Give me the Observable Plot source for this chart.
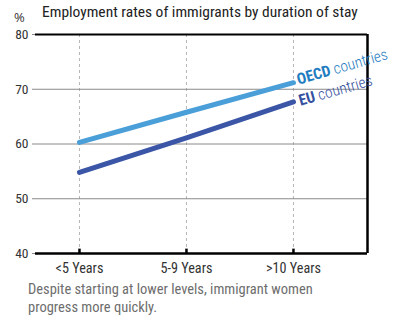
<!DOCTYPE html>
<html><head><meta charset="utf-8">
<script src="https://cdn.jsdelivr.net/npm/d3@7"></script>
<script src="https://cdn.jsdelivr.net/npm/@observablehq/plot@0.6"></script>
<style>
body{margin:0;background:#fff;}
#wrap{position:relative;width:395px;height:319px;font-family:Roboto,sans-serif;font-stretch:condensed;}
.t{position:absolute;white-space:nowrap;line-height:1;}
#chart svg text{font-family:Roboto,sans-serif;}
</style></head>
<body>
<div id="wrap">
<div id="chart"></div>
<div class="t" id="title" style="left:42px;color:#222;">Employment rates of immigrants by duration of stay</div>
<div class="t" id="pct" style="left:14px;top:11px;font-size:13px;color:#333;font-family:'Open Sans';font-stretch:normal;">%</div>
<div class="t" id="cap" style="left:28px;line-height:18px;color:#6d6d6d;">Despite starting at lower levels, immigrant women<br>progress more quickly.</div>
</div>
<script>
const categories = ["<5 Years", "5-9 Years", ">10 Years"];
const oecdValues = [60.3, 65.8, 71.2];
const euValues = [54.8, 61.1, 67.7];
const yTicks = [40, 50, 60, 70, 80];
const seriesNames = ["OECD", "EU"];

const ctx = document.createElement("canvas").getContext("2d");
function w(str, weight) { ctx.font = `${weight || "normal"} condensed 100px Roboto`; return ctx.measureText(str).width; }
function fit(str, target, weight) { return 100 * target / w(str, weight); }

const titleSize = fit("Employment rates of immigrants by duration of stay", 316);
const capSize = fit("Despite starting at lower levels, immigrant women", 285);
const xSize = fit("5-9 Years", 52);
const lblSize = 100 * 94 / (w("OECD", "bold") + w(" countries", "300"));

// position HTML text by baseline (Roboto: ascent 0.928, descent 0.244)
function place(el, size, baseline, lh) {
  el.style.fontSize = size + "px";
  const L = lh || size;
  el.style.top = (baseline - (L / 2 + (0.928 - 0.244) / 2 * size)) + "px";
}
place(document.getElementById("title"), titleSize, 18.5);
place(document.getElementById("cap"), capSize, 294.5, 18);

const data = [];
categories.forEach((c, i) => {
  data.push({series: "OECD", i, v: oecdValues[i]});
  data.push({series: "EU", i, v: euValues[i]});
});
const colors = {OECD: "#4a9fd8", EU: "#3b56a6"};
const labelColors = {OECD: "#1f7cc0", EU: "#34509f"};
const xmin = -0.411, xmax = 2.692;
const last = [
  {series: "OECD", i: 2, v: oecdValues[2], dx: 5, dy: 2},
  {series: "EU", i: 2, v: euValues[2], dx: 7, dy: 4}
];

const chart = Plot.plot({
  width: 395, height: 319,
  marginLeft: 35, marginRight: 28, marginTop: 34, marginBottom: 66,
  style: `font-family:Roboto,sans-serif;font-size:13px;background:#fff;`,
  x: {type: "linear", domain: [xmin, xmax]},
  y: {domain: [40, 80]},
  marks: [
    Plot.ruleX([0, 1, 2], {stroke: "#b5b5b5", strokeDasharray: "3,3", y1: 40, y2: 80}),
    Plot.ruleY([50, 60, 70], {stroke: "#8a8a8a", strokeWidth: 1}),
    Plot.axisY({ticks: yTicks, tickSize: 3, tickPadding: 4, stroke: "#888", fill: "#333", label: null, fontSize: 13.5}),
    Plot.axisX({ticks: [0, 1, 2], tickFormat: i => categories[i], tickSize: 0, tickPadding: 9, fill: "#333", label: null, fontSize: xSize}),
    Plot.line(data, {x: "i", y: "v", z: "series", stroke: d => colors[d.series], strokeWidth: 5, strokeLinecap: "round"}),
    Plot.ruleY([80], {stroke: "#000", strokeWidth: 2}),
    Plot.ruleY([40], {stroke: "#000", strokeWidth: 2.5}),
    Plot.ruleX([xmax], {stroke: "#000", strokeWidth: 2.5, y1: 40, y2: 80}),
    Plot.ruleX([0, 1, 2], {stroke: "#000", strokeWidth: 2.5, y1: 40, y2: 40.8}),
    ...last.map(d => Plot.text([d], {x: "i", y: "v", text: d => d.series + " countries", className: "lbl",
      fill: labelColors[d.series], textAnchor: "start", lineAnchor: "bottom", rotate: -16, dx: d.dx, dy: d.dy, fontSize: lblSize}))
  ]
});
document.getElementById("chart").appendChild(chart);
d3.select(chart).selectAll('[aria-label="y-axis tick label"]').style("font-family", "'Open Sans'");
d3.select(chart).selectAll('[aria-label="x-axis tick label"], .lbl').style("font-stretch", "condensed");
d3.select(chart).selectAll(".lbl text").each(function() {
  const t = d3.select(this);
  const txt = t.text();
  const [a, ...rest] = txt.split(" ");
  t.text(null);
  t.append("tspan").attr("font-weight", "bold").text(a);
  t.append("tspan").attr("font-weight", "300").text(" " + rest.join(" "));
});
</script>
</body></html>
